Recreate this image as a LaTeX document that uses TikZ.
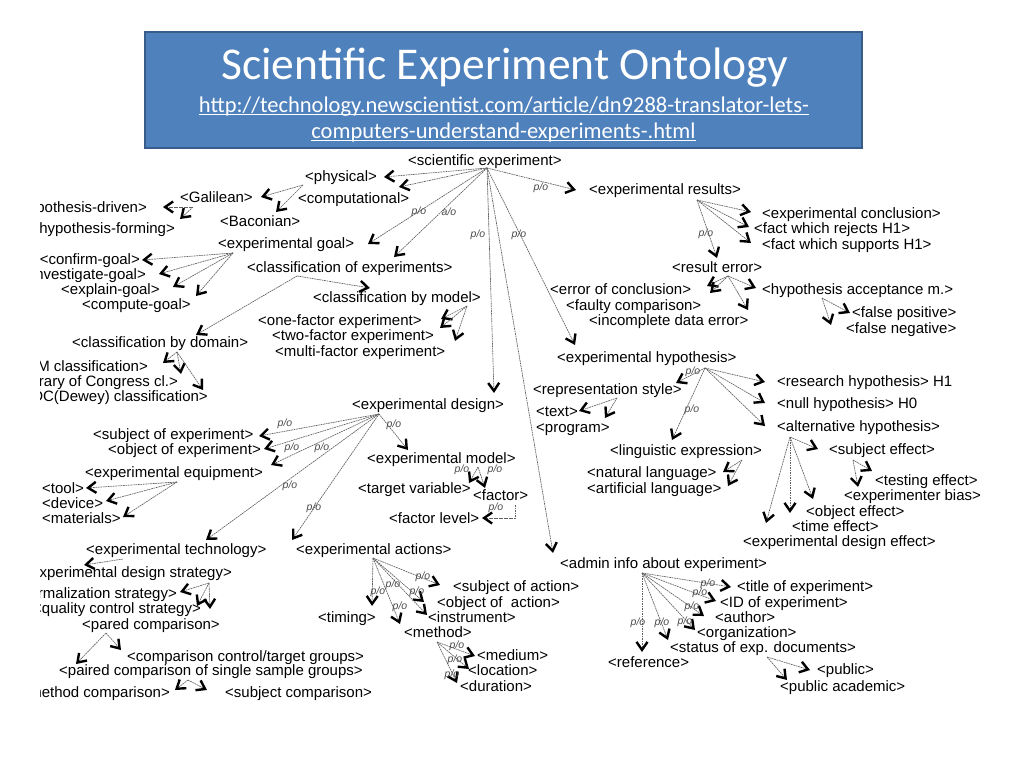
\documentclass[tikz,border=0pt]{standalone}
\usepackage{fontspec}
\setmainfont{Liberation Sans}
\newfontfamily\calib{Carlito}
\usetikzlibrary{arrows.meta,calc}
\definecolor{bannerblue}{RGB}{79,129,189}
\definecolor{bannerline}{RGB}{56,93,138}
\tikzset{
 lbl/.style={font=\fontsize{15}{18}\selectfont, inner sep=0pt, anchor=base west, text=black},
 lble/.style={lbl, anchor=base east},
 rel/.style={draw=gray!75!black, line width=0.65pt, dash pattern=on 1.8pt off 0.7pt,
   -{Straight Barb[length=8pt,width=11pt,line width=2.4pt,color=black]}},
 polab/.style={font=\fontsize{10.5}{12}\selectfont\itshape, text=black!70, inner sep=0pt},
 headtxt/.style={text=white, anchor=base, inner sep=0pt},
}
\newcommand\mkw[4]{\node[lbl] (#1) at (#2,#3+5) {#4};}
\newcommand\mke[4]{\node[lble] (#1) at (#2,#3+5) {#4};}
\newcommand\cpt[3]{\coordinate (#1) at (#2,#3);}
\newcommand\conn[2]{\draw[rel] (#1) -- (#2);}
\newcommand\plab[3]{\node[polab] (#1) at (#2,#3) {p/o};}
\begin{document}
\begin{tikzpicture}[x=1pt,y=-1pt]
\useasboundingbox (0,0) rectangle (1024,768);
\fill[white] (0,0) rectangle (1024,768);
% banner
\node[fill=bannerblue, draw=bannerline, line width=1.5pt, minimum width=717pt, minimum height=116pt, inner sep=0pt] (banner) at (503.5,90) {};
\node[headtxt, font=\calib\fontsize{45.5}{50}\selectfont] (title) at (505,79) {Scientific Experiment Ontology};
\node[headtxt, font=\calib\fontsize{22.5}{26}\selectfont] (url1) at (504,112) {http://technology.newscientist.com/article/dn9288-translator-lets-};
\node[headtxt, font=\calib\fontsize{22.5}{26}\selectfont] (url2) at (503.5,138) {computers-understand-experiments-.html};
\draw[white, line width=1.1pt] ($(url1.base west)+(0,2.6)$) -- ($(url1.base east)+(0,2.6)$);
\draw[white, line width=1.1pt] ($(url2.base west)+(0,2.6)$) -- ($(url2.base east)+(0,2.6)$);

\begin{scope}
\clip (40,148) rectangle (1024,768);
% ---------- nodes
\mkw{root}{408}{160}{<scientific experiment>}
\mkw{phys}{305}{176}{<physical>}
\mkw{comp}{298}{198}{<computational>}
\mkw{gal}{180}{197}{<Galilean>}
\mkw{bac}{220}{221}{<Baconian>}
\mke{hypd}{147}{207}{<hypothesis-driven>}
\mke{hypf}{175}{228}{<hypothesis-forming>}
\mkw{goal}{218}{243}{<experimental goal>}
\mkw{cls}{247}{267}{<classification of experiments>}
\mke{conf}{140}{259}{<confirm-goal>}
\mke{inv}{146}{274}{<investigate-goal>}
\mkw{expl}{61}{289}{<explain-goal>}
\mkw{cmpg}{82}{304}{<compute-goal>}
\mkw{clm}{313}{297}{<classification by model>}
\mkw{cld}{72}{342}{<classification by domain>}
\mkw{one}{258}{320}{<one-factor experiment>}
\mkw{two}{272}{335}{<two-factor experiment>}
\mkw{multi}{275}{351}{<multi-factor experiment>}
\mke{acm}{148}{366}{<ACM classification>}
\mke{lcc}{178}{381}{<Library of Congress cl.>}
\mke{ddc}{208}{396}{<DDC(Dewey) classification>}
\mkw{res}{589}{189}{<experimental results>}
\mkw{conc}{762}{213}{<experimental conclusion>}
\mkw{rej}{754}{228}{<fact which rejects H1>}
\mkw{sup}{762}{244}{<fact which supports H1>}
\mkw{rerr}{672}{267}{<result error>}
\mkw{eoc}{550}{289}{<error of conclusion>}
\mkw{faulty}{566}{305}{<faulty comparison>}
\mkw{incomp}{589}{320}{<incomplete data error>}
\mkw{hacc}{762}{289}{<hypothesis acceptance m.>}
\mkw{fpos}{852}{312}{<false positive>}
\mkw{fneg}{846}{328}{<false negative>}
\mkw{hyp}{557}{357}{<experimental hypothesis>}
\mkw{rep}{533}{389}{<representation style>}
\mkw{rh}{777}{381}{<research hypothesis> H1}
\mkw{nh}{777}{403}{<null hypothesis> H0}
\mkw{ah}{777}{426}{<alternative hypothesis>}
\mkw{ling}{610}{450}{<linguistic expression>}
\mkw{txt}{536}{411}{<text>}
\mkw{prog}{536}{427}{<program>}
\mkw{nat}{587}{472}{<natural language>}
\mkw{art}{587}{488}{<artificial language>}
\mkw{seff}{829}{449}{<subject effect>}
\mkw{test}{875}{480}{<testing effect>}
\mkw{bias}{844}{495}{<experimenter bias>}
\mkw{oeff}{806}{511}{<object effect>}
\mkw{teff}{792}{526}{<time effect>}
\mkw{ede}{743}{541}{<experimental design effect>}
\mkw{admin}{560}{563}{<admin info about experiment>}
\mkw{ttl}{737}{586}{<title of experiment>}
\mkw{idx}{720}{602}{<ID of experiment>}
\mkw{auth}{715}{617}{<author>}
\mkw{org}{697}{632}{<organization>}
\mkw{stat}{670}{647}{<status of exp. documents>}
\mkw{ref}{608}{662}{<reference>}
\mkw{pub}{817}{669}{<public>}
\mkw{puba}{780}{686}{<public academic>}
\mkw{des}{352}{404}{<experimental design>}
\mkw{sexp}{93}{434}{<subject of experiment>}
\mkw{oexp}{108}{449}{<object of experiment>}
\mkw{equip}{85}{472}{<experimental equipment>}
\mkw{tool}{42}{488}{<tool>}
\mkw{dev}{42}{503}{<device>}
\mkw{mat}{42}{518}{<materials>}
\mkw{model}{367}{458}{<experimental model>}
\mkw{tvar}{358}{488}{<target variable>}
\mkw{fac}{473}{495}{<factor>}
\mkw{flev}{389}{518}{<factor level>}
\mkw{tech}{86}{549}{<experimental technology>}
\mkw{act}{296}{549}{<experimental actions>}
\mke{eds}{232}{572}{<experimental design strategy>}
\mke{form}{177}{593}{<formalization strategy>}
\mke{qual}{201}{608}{<quality control strategy>}
\mkw{pared}{82}{624}{<pared comparison>}
\mkw{cctg}{127}{656}{<comparison control/target groups>}
\mkw{pcss}{59}{670}{<paired comparison of single sample groups>}
\mke{mcomp}{170}{692}{<method comparison>}
\mkw{scomp}{225}{692}{<subject comparison>}
\mkw{sact}{453}{586}{<subject of action>}
\mkw{oact}{437}{602}{<object of\ \ action>}
\mkw{instr}{428}{617}{<instrument>}
\mkw{timing}{318}{617}{<timing>}
\mkw{meth}{404}{632}{<method>}
\mkw{med}{477}{655}{<medium>}
\mkw{locn}{468}{670}{<location>}
\mkw{dur}{460}{686}{<duration>}

% ---------- origins and tips
\cpt{root-o}{487}{168}
\cpt{phys-t}{384}{177}\cpt{comp-t}{399}{187}\cpt{goal-t}{368}{244}\cpt{cls-t}{394}{257}
\cpt{res-t}{576}{190}\cpt{des-t}{494}{393}\cpt{admin-t}{553}{553}\cpt{hyp-t}{575}{345}
\cpt{phys-o}{303}{185}\cpt{gal-t}{261}{197}\cpt{bac-t}{276}{212}
\cpt{gal-o}{193}{207}\cpt{hypd-t}{163}{207}\cpt{hypf-t}{180}{219}
\cpt{goal-o}{233}{253}\cpt{conf-t}{142}{260}\cpt{inv-t}{159}{274}\cpt{expl-t}{173}{287}\cpt{cmpg-t}{196}{296}
\cpt{cls-o}{297}{276}\cpt{clm-t}{370}{288}\cpt{cld-t}{196}{335}
\cpt{clm-o}{467}{306}\cpt{one-t}{441}{319}\cpt{two-t}{440}{328}\cpt{multi-t}{455}{341}
\cpt{cld-o}{177}{352}\cpt{acm-t}{163}{363}\cpt{lcc-t}{181}{374}\cpt{ddc-t}{203}{390}
\cpt{res-o}{697}{200}\cpt{conc-t}{751}{212}\cpt{rej-t}{749}{227}\cpt{sup-t}{751}{243}\cpt{rerr-t}{717}{258}
\cpt{rerr-o}{728}{276}\cpt{eoc-t}{707}{286}\cpt{faulty-t}{710}{293}\cpt{incomp-t}{748}{310}\cpt{hacc-t}{756}{288}
\cpt{hacc-o}{822}{298}\cpt{fpos-t}{850}{313}\cpt{fneg-t}{831}{325}
\cpt{hyp-o}{705}{368}\cpt{rep-t}{676}{383}\cpt{rh-t}{765}{382}\cpt{nh-t}{765}{403}\cpt{ah-t}{765}{426}\cpt{ling-t}{672}{440}
\cpt{rep-o}{617}{398}\cpt{txt-t}{579}{411}\cpt{prog-t}{605}{418}
\cpt{ling-o}{742}{460}\cpt{nat-t}{723}{472}\cpt{art-t}{728}{486}
\cpt{ah-o}{790}{437}\cpt{seff-t}{818}{449}\cpt{oeff-t}{813}{499}\cpt{teff-t}{790}{513}\cpt{ede-t}{766}{523}
\cpt{seff-o}{853}{460}\cpt{test-t}{872}{471}\cpt{bias-t}{858}{487}
\cpt{admin-o}{642}{573}\cpt{ttl-t}{731}{587}\cpt{idx-t}{716}{601}\cpt{auth-t}{704}{616}\cpt{org-t}{695}{630}\cpt{stat-t}{668}{640}\cpt{ref-t}{642}{652}
\cpt{stat-o}{767}{657}\cpt{pub-t}{810}{670}\cpt{puba-t}{787}{680}
\cpt{des-o}{379}{414}\cpt{sexp-t}{259}{436}\cpt{oexp-t}{264}{449}\cpt{equip-t}{271}{465}\cpt{model-t}{408}{450}\cpt{tech-t}{206}{540}\cpt{act-t}{292}{540}
\cpt{equip-o}{177}{482}\cpt{tool-t}{86}{488}\cpt{dev-t}{106}{501}\cpt{mat-t}{123}{517}
\cpt{model-o}{478}{467}\cpt{tvar-t}{469}{483}\cpt{fac-t}{485}{488}
\cpt{fac-o}{515}{505}\cpt{flev-t}{482}{518}
\cpt{tech-o}{123}{559}\cpt{eds-t}{84}{565}
\cpt{eds-o}{209}{583}\cpt{form-t}{180}{592}\cpt{qual-t}{197}{606}\cpt{pared-t}{210}{609}
\cpt{pared-o}{106}{633}\cpt{cctg-t}{121}{650}\cpt{pcss-t}{76}{664}
\cpt{pcss-o}{188}{680}\cpt{mcomp-t}{175}{690}\cpt{scomp-t}{207}{690}
\cpt{act-o}{373}{558}\cpt{sact-t}{440}{585}\cpt{oact-t}{424}{602}\cpt{instr-t}{427}{615}\cpt{timing-t}{372}{606}\cpt{meth-t}{400}{624}
\cpt{meth-o}{437}{642}\cpt{med-t}{475}{656}\cpt{locn-t}{469}{669}\cpt{dur-t}{457}{683}

% ---------- connectors
\foreach \c in {phys,comp,goal,cls,res,des,admin,hyp}{\conn{root-o}{\c-t}}
\foreach \c in {gal,bac}{\conn{phys-o}{\c-t}}
\foreach \c in {hypd,hypf}{\conn{gal-o}{\c-t}}
\foreach \c in {conf,inv,expl,cmpg}{\conn{goal-o}{\c-t}}
\foreach \c in {clm,cld}{\conn{cls-o}{\c-t}}
\foreach \c in {one,two,multi}{\conn{clm-o}{\c-t}}
\foreach \c in {acm,lcc,ddc}{\conn{cld-o}{\c-t}}
\foreach \c in {conc,rej,sup,rerr}{\conn{res-o}{\c-t}}
\foreach \c in {eoc,faulty,incomp,hacc}{\conn{rerr-o}{\c-t}}
\foreach \c in {fpos,fneg}{\conn{hacc-o}{\c-t}}
\foreach \c in {rep,rh,nh,ah,ling}{\conn{hyp-o}{\c-t}}
\foreach \c in {txt,prog}{\conn{rep-o}{\c-t}}
\foreach \c in {nat,art}{\conn{ling-o}{\c-t}}
\foreach \c in {seff,oeff,teff,ede}{\conn{ah-o}{\c-t}}
\foreach \c in {test,bias}{\conn{seff-o}{\c-t}}
\foreach \c in {ttl,idx,auth,org,stat,ref}{\conn{admin-o}{\c-t}}
\foreach \c in {pub,puba}{\conn{stat-o}{\c-t}}
\foreach \c in {sexp,oexp,equip,model,tech,act}{\conn{des-o}{\c-t}}
\foreach \c in {tool,dev,mat}{\conn{equip-o}{\c-t}}
\foreach \c in {tvar,fac}{\conn{model-o}{\c-t}}
\draw[rel] (fac-o) |- (flev-t);
\conn{tech-o}{eds-t}
\foreach \c in {form,qual,pared}{\conn{eds-o}{\c-t}}
\foreach \c in {cctg,pcss}{\conn{pared-o}{\c-t}}
\foreach \c in {mcomp,scomp}{\conn{pcss-o}{\c-t}}
\foreach \c in {sact,oact,instr,timing,meth}{\conn{act-o}{\c-t}}
\foreach \c in {med,locn,dur}{\conn{meth-o}{\c-t}}

% ---------- relation labels
\plab{po1}{419}{212}
\node[polab] (ao1) at (449,212) {a/o};
\plab{po2}{541}{188}
\plab{po3}{478}{235}
\plab{po4}{519}{235}
\plab{po5}{706}{234}
\plab{po6}{693}{372}
\plab{po7}{692}{410}
\plab{po8}{708}{584}
\plab{po9}{700}{593}
\plab{po10}{692}{607}
\plab{po11}{685}{622}
\plab{po12}{662}{623}
\plab{po13}{638}{623}
\plab{po14}{285}{424}
\plab{po15}{292}{448}
\plab{po16}{322}{448}
\plab{po17}{394}{425}
\plab{po18}{290}{486}
\plab{po19}{314}{508}
\plab{po20}{462}{470}
\plab{po21}{495}{470}
\plab{po22}{496}{508}
\plab{po23}{423}{577}
\plab{po24}{417}{592}
\plab{po25}{393}{585}
\plab{po26}{378}{592}
\plab{po27}{400}{607}
\plab{po28}{457}{646}
\plab{po29}{455}{660}
\plab{po30}{452}{675}
\end{scope}
\end{tikzpicture}
\end{document}
